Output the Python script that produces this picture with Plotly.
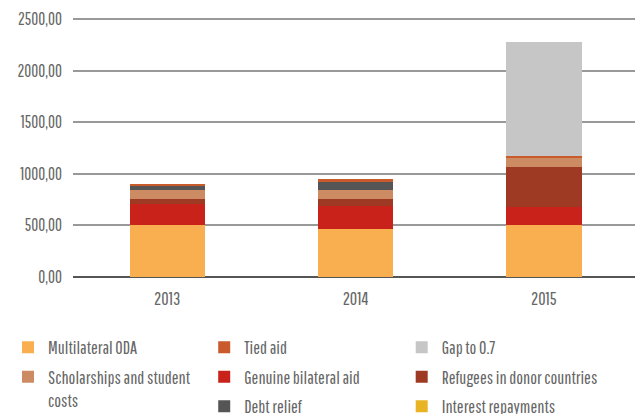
import plotly.graph_objects as go

years = ["2013", "2014", "2015"]

multilateral_oda = [500, 463, 500]
genuine_bilateral = [212, 222, 174]
refugees = [48, 67, 395]
scholarships = [87, 87, 87]
debt_relief = [39, 87, 0]
tied_aid = [19, 19, 19]
interest_repayments = [0, 0, 0]
gap_to_07 = [0, 0, 1099]

y_ticks = [0, 500, 1000, 1500, 2000, 2500]

FONT = "Pathway Gothic One, Antonio, Oswald, DejaVu Sans Condensed, sans-serif"
TEXT = "#666666"

series = [
    ("Multilateral ODA", multilateral_oda, "#F9AE4F", "legend"),
    ("Genuine bilateral aid", genuine_bilateral, "#C9221A", "legend2"),
    ("Refugees in donor countries", refugees, "#9E3A24", "legend3"),
    ("Scholarships and student<br>costs", scholarships, "#CD8B63", "legend"),
    ("Debt relief", debt_relief, "#555555", "legend2"),
    ("Tied aid", tied_aid, "#C85A2B", "legend2"),
    ("Interest repayments", interest_repayments, "#E9B424", "legend3"),
    ("Gap to 0.7", gap_to_07, "#C6C6C6", "legend3"),
]
legend_rank = {
    "Multilateral ODA": 1, "Scholarships and student<br>costs": 2,
    "Tied aid": 1, "Genuine bilateral aid": 2, "Debt relief": 3,
    "Gap to 0.7": 1, "Refugees in donor countries": 2, "Interest repayments": 3,
}

fig = go.Figure()
for name, vals, color, lg in series:
    fig.add_trace(go.Bar(
        x=years, y=vals, name=name, marker=dict(color=color, line=dict(width=0)),
        legend=lg, legendrank=legend_rank[name], legendgroup=name,
    ))

leg_common = dict(
    orientation="v", xref="container", yref="container", xanchor="left",
    yanchor="top", y=0.209, traceorder="grouped",
    tracegroupgap=3, font=dict(family=FONT, size=18, color=TEXT),
    bgcolor="rgba(0,0,0,0)", valign="top",
)

fig.update_layout(
    width=635, height=406,
    margin=dict(l=65, r=5, t=10, b=137, autoexpand=False),
    barmode="stack", bargap=0.6,
    paper_bgcolor="white", plot_bgcolor="white",
    separators=",.",
    font=dict(family=FONT, size=18, color=TEXT),
    xaxis=dict(showgrid=False, showline=False, ticks="", ticklabelstandoff=9,
               tickfont=dict(size=18, color=TEXT)),
    yaxis=dict(
        range=[0, 2510], tickvals=y_ticks, tickformat=".2f",
        showgrid=True, gridcolor="#999999", gridwidth=1.5,
        zeroline=True, zerolinecolor="#555555", zerolinewidth=2,
        ticks="", ticklabelstandoff=10, tickfont=dict(size=17, color=TEXT),
    ),
    legend=dict(x=0.0, **leg_common),
    legend2=dict(x=0.309, **leg_common),
    legend3=dict(x=0.620, **leg_common),
)

fig.write_html("out.html")
